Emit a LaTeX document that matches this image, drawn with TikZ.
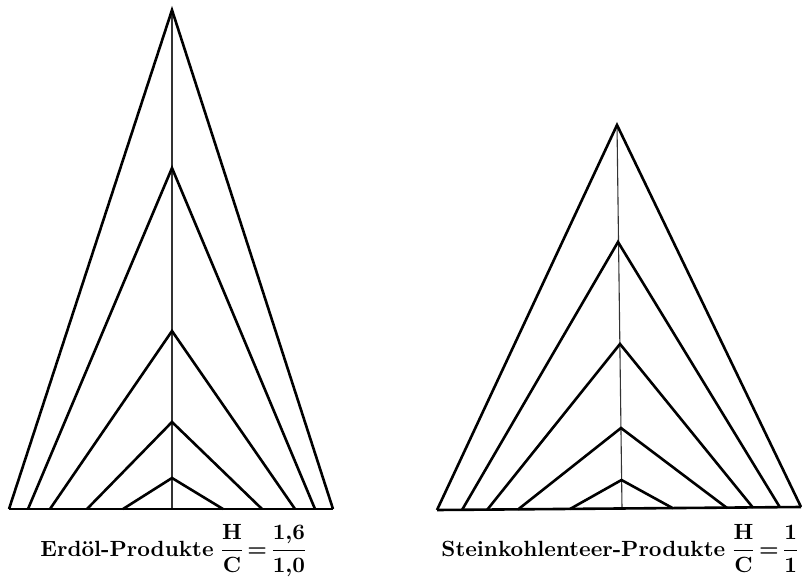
\documentclass[tikz,border=0pt]{standalone}
\usepackage{amsmath}
\begin{document}
\begin{tikzpicture}[x=1pt,y=-1pt,
  heavy/.style={line width=2.6pt, line join=miter, line cap=butt},
  axisline/.style={line width=1.1pt, draw=black!80},
  lbl/.style={inner sep=0pt, scale=2.2, transform shape, font=\bfseries}]
\useasboundingbox (0,0) rectangle (802,577);
% ---- left figure ----
\coordinate (LA1) at (172,10);
\coordinate (LA2) at (172,168);
\coordinate (LA3) at (172,331);
\coordinate (LA4) at (172,422);
\coordinate (LA5) at (172,478);
\coordinate (LC) at (172,509);
\coordinate (LL1) at (9,509);   \coordinate (LR1) at (333,509);
\coordinate (LL2) at (28,509);  \coordinate (LR2) at (315,509);
\coordinate (LL3) at (50,509);  \coordinate (LR3) at (295,509);
\coordinate (LL4) at (87,509);  \coordinate (LR4) at (262,509);
\coordinate (LL5) at (123,509); \coordinate (LR5) at (223,509);
\draw[axisline] (LA1) -- (LC);
\draw[heavy] (LL1) -- (LR1);
\foreach \i in {1,...,5} {\draw[heavy] (LL\i) -- (LA\i) -- (LR\i);}
% ---- right figure ----
\coordinate (RA1) at (617,125);
\coordinate (RA2) at (618,242);
\coordinate (RA3) at (620,344);
\coordinate (RA4) at (621,428);
\coordinate (RA5) at (621.5,480);
\coordinate (RC) at (622,508.5);
\coordinate (RL1) at (437,510);   \coordinate (RR1) at (801,507);
\coordinate (RL2) at (462,510);   \coordinate (RR2) at (780,507.5);
\coordinate (RL3) at (487,510);   \coordinate (RR3) at (753,507.7);
\coordinate (RL4) at (518,509.5); \coordinate (RR4) at (727,508);
\coordinate (RL5) at (570,509);   \coordinate (RR5) at (673,508.3);
\draw[axisline] (RA1) -- (RC);
\draw[heavy] (RL1) -- (RR1);
\foreach \i in {1,...,5} {\draw[heavy] (RL\i) -- (RA\i) -- (RR\i);}
% ---- labels ----
\node[lbl, anchor=base west] (lab1) at (40,556)
  {\nulldelimiterspace=0pt Erdöl-Produkte $\thickmuskip=4mu\boldsymbol{\dfrac{\mathbf{H}}{\mathbf{C}} = \dfrac{\mathbf{1{,}6}}{\mathbf{1{,}0}}}$};
\node[lbl, anchor=base west] (lab2) at (441,556)
  {\nulldelimiterspace=0pt Steinkohlenteer-Produkte $\thickmuskip=4mu\boldsymbol{\dfrac{\mathbf{H}}{\mathbf{C}} = \dfrac{\mathbf{1}}{\mathbf{1}}}$};
\end{tikzpicture}
\end{document}
